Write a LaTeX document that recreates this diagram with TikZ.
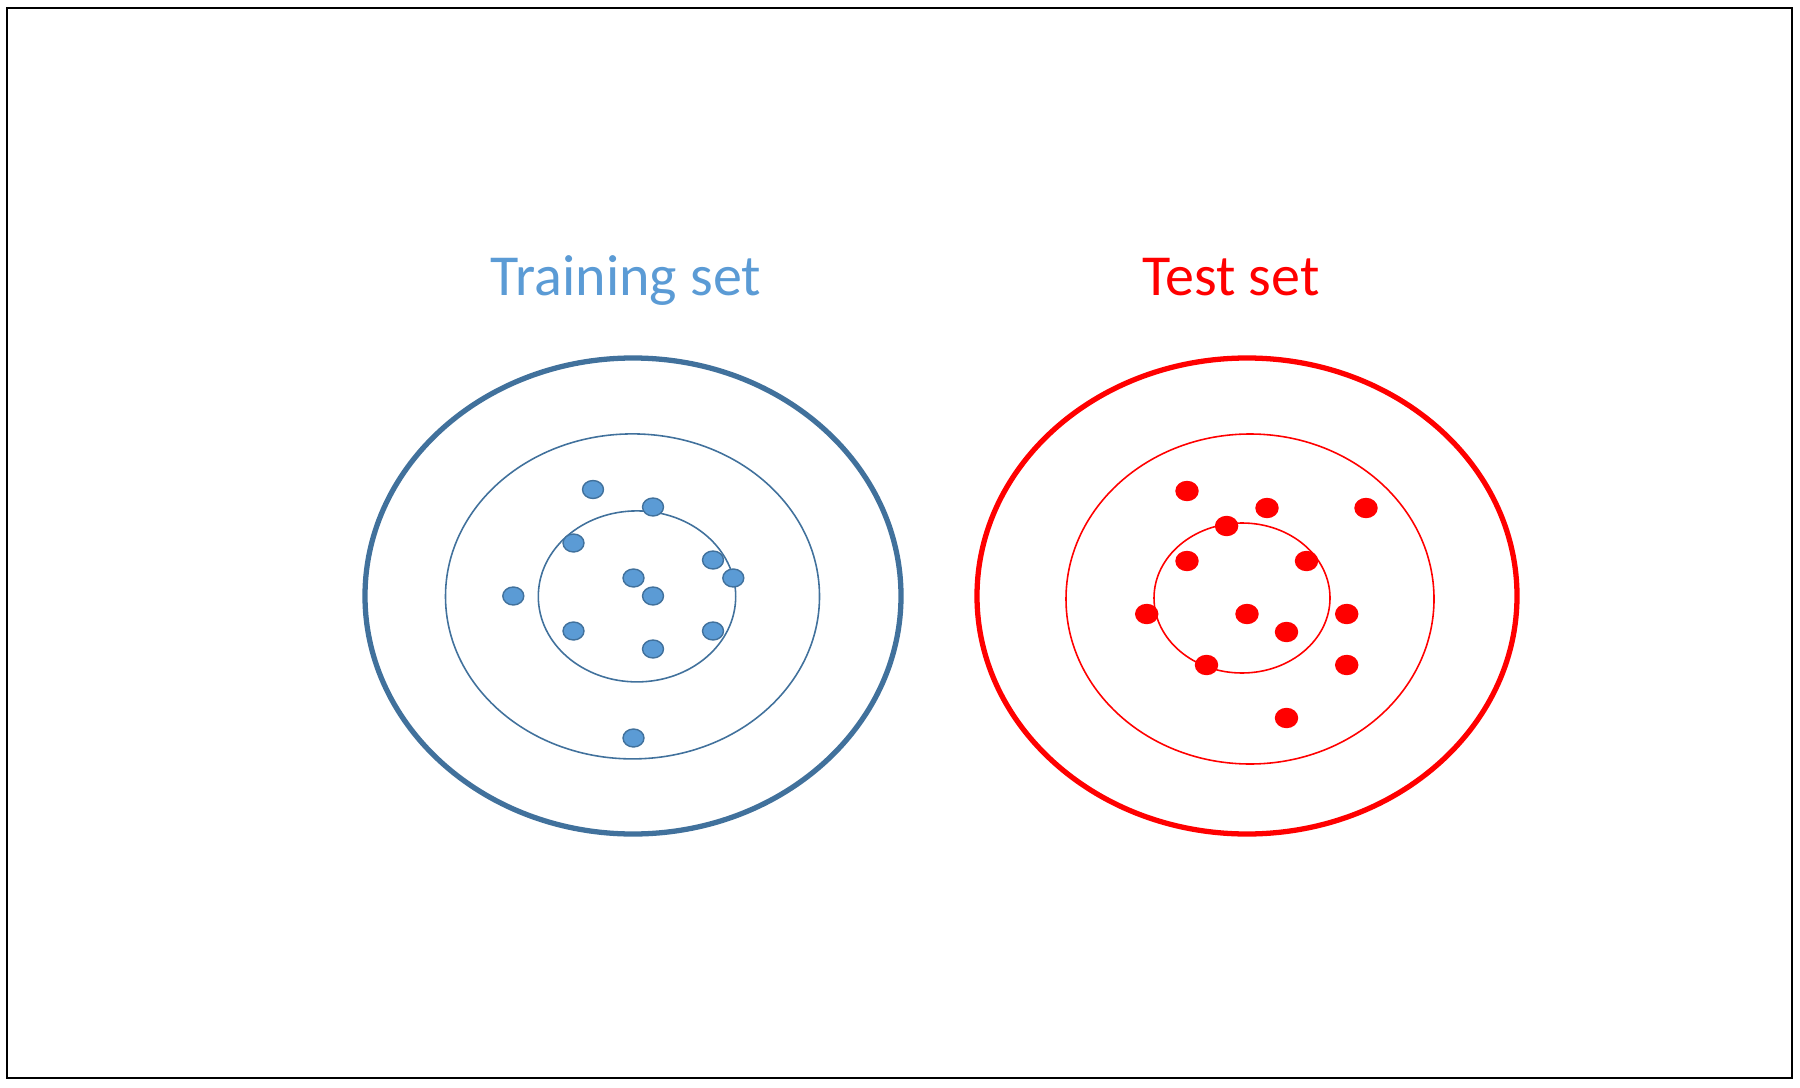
\documentclass[tikz,border=0pt]{standalone}
\usepackage{fontspec}
\setmainfont{Carlito}
\usepackage{tikz}

\definecolor{trainfill}{RGB}{91,155,213}
\definecolor{trainline}{RGB}{65,113,156}
\definecolor{testred}{RGB}{255,0,0}

\begin{document}
\begin{tikzpicture}[x=0.01cm, y=0.01cm,
	trainpt/.style = {fill=trainfill, draw=trainline, line width=0.4pt},
	testpt/.style = {fill=testred, draw=testred, line width=0.4pt}]
	\useasboundingbox (0,0) rectangle (1800,1087);
	\draw [line width = 0.7pt] (7,9) rectangle (1792,1079);
	
	% training set
	\node [anchor=base, text=trainfill, font=\fontsize{16.5}{20}\selectfont] (trainlbl) at (626,791) {Training set};
	\draw [trainline, line width = 1.5pt] (633,491) ellipse [x radius=268, y radius=238];
	\draw [trainline, line width = 0.45pt] (632.5,490.6) ellipse [x radius=187, y radius=162.5];
	\draw [trainline, line width = 0.45pt] (637,490.6) ellipse [x radius=98.7, y radius=85.5];
	\foreach \x/\y in {593/597.5, 653/580, 573.5/544, 713/527, 733.3/509, 633.5/509,
		653/491, 513.3/491, 573.5/456, 713/456, 653/438, 633.5/349}
		\draw [trainpt] (\x,\y) ellipse [x radius=10.5, y radius=9];
	
	% test set
	\node [anchor=base, text=testred, font=\fontsize{16.5}{20}\selectfont] (testlbl) at (1231,791) {Test set};
	\draw [testred, line width = 1.5pt] (1247,491) ellipse [x radius=270, y radius=238];
	\draw [testred, line width = 0.45pt] (1250,488) ellipse [x radius=184, y radius=165];
	\draw [testred, line width = 0.45pt] (1242,489) ellipse [x radius=88, y radius=75];
	\foreach \x/\y in {1187/596, 1267/579, 1366/579, 1226.6/561, 1187/526, 1306.5/526,
		1146.7/473, 1247/473, 1346.7/473, 1286.5/455, 1206.5/422, 1346.7/422, 1286.5/369}
		\draw [testpt] (\x,\y) ellipse [x radius=11, y radius=9.5];
\end{tikzpicture}
\end{document}
